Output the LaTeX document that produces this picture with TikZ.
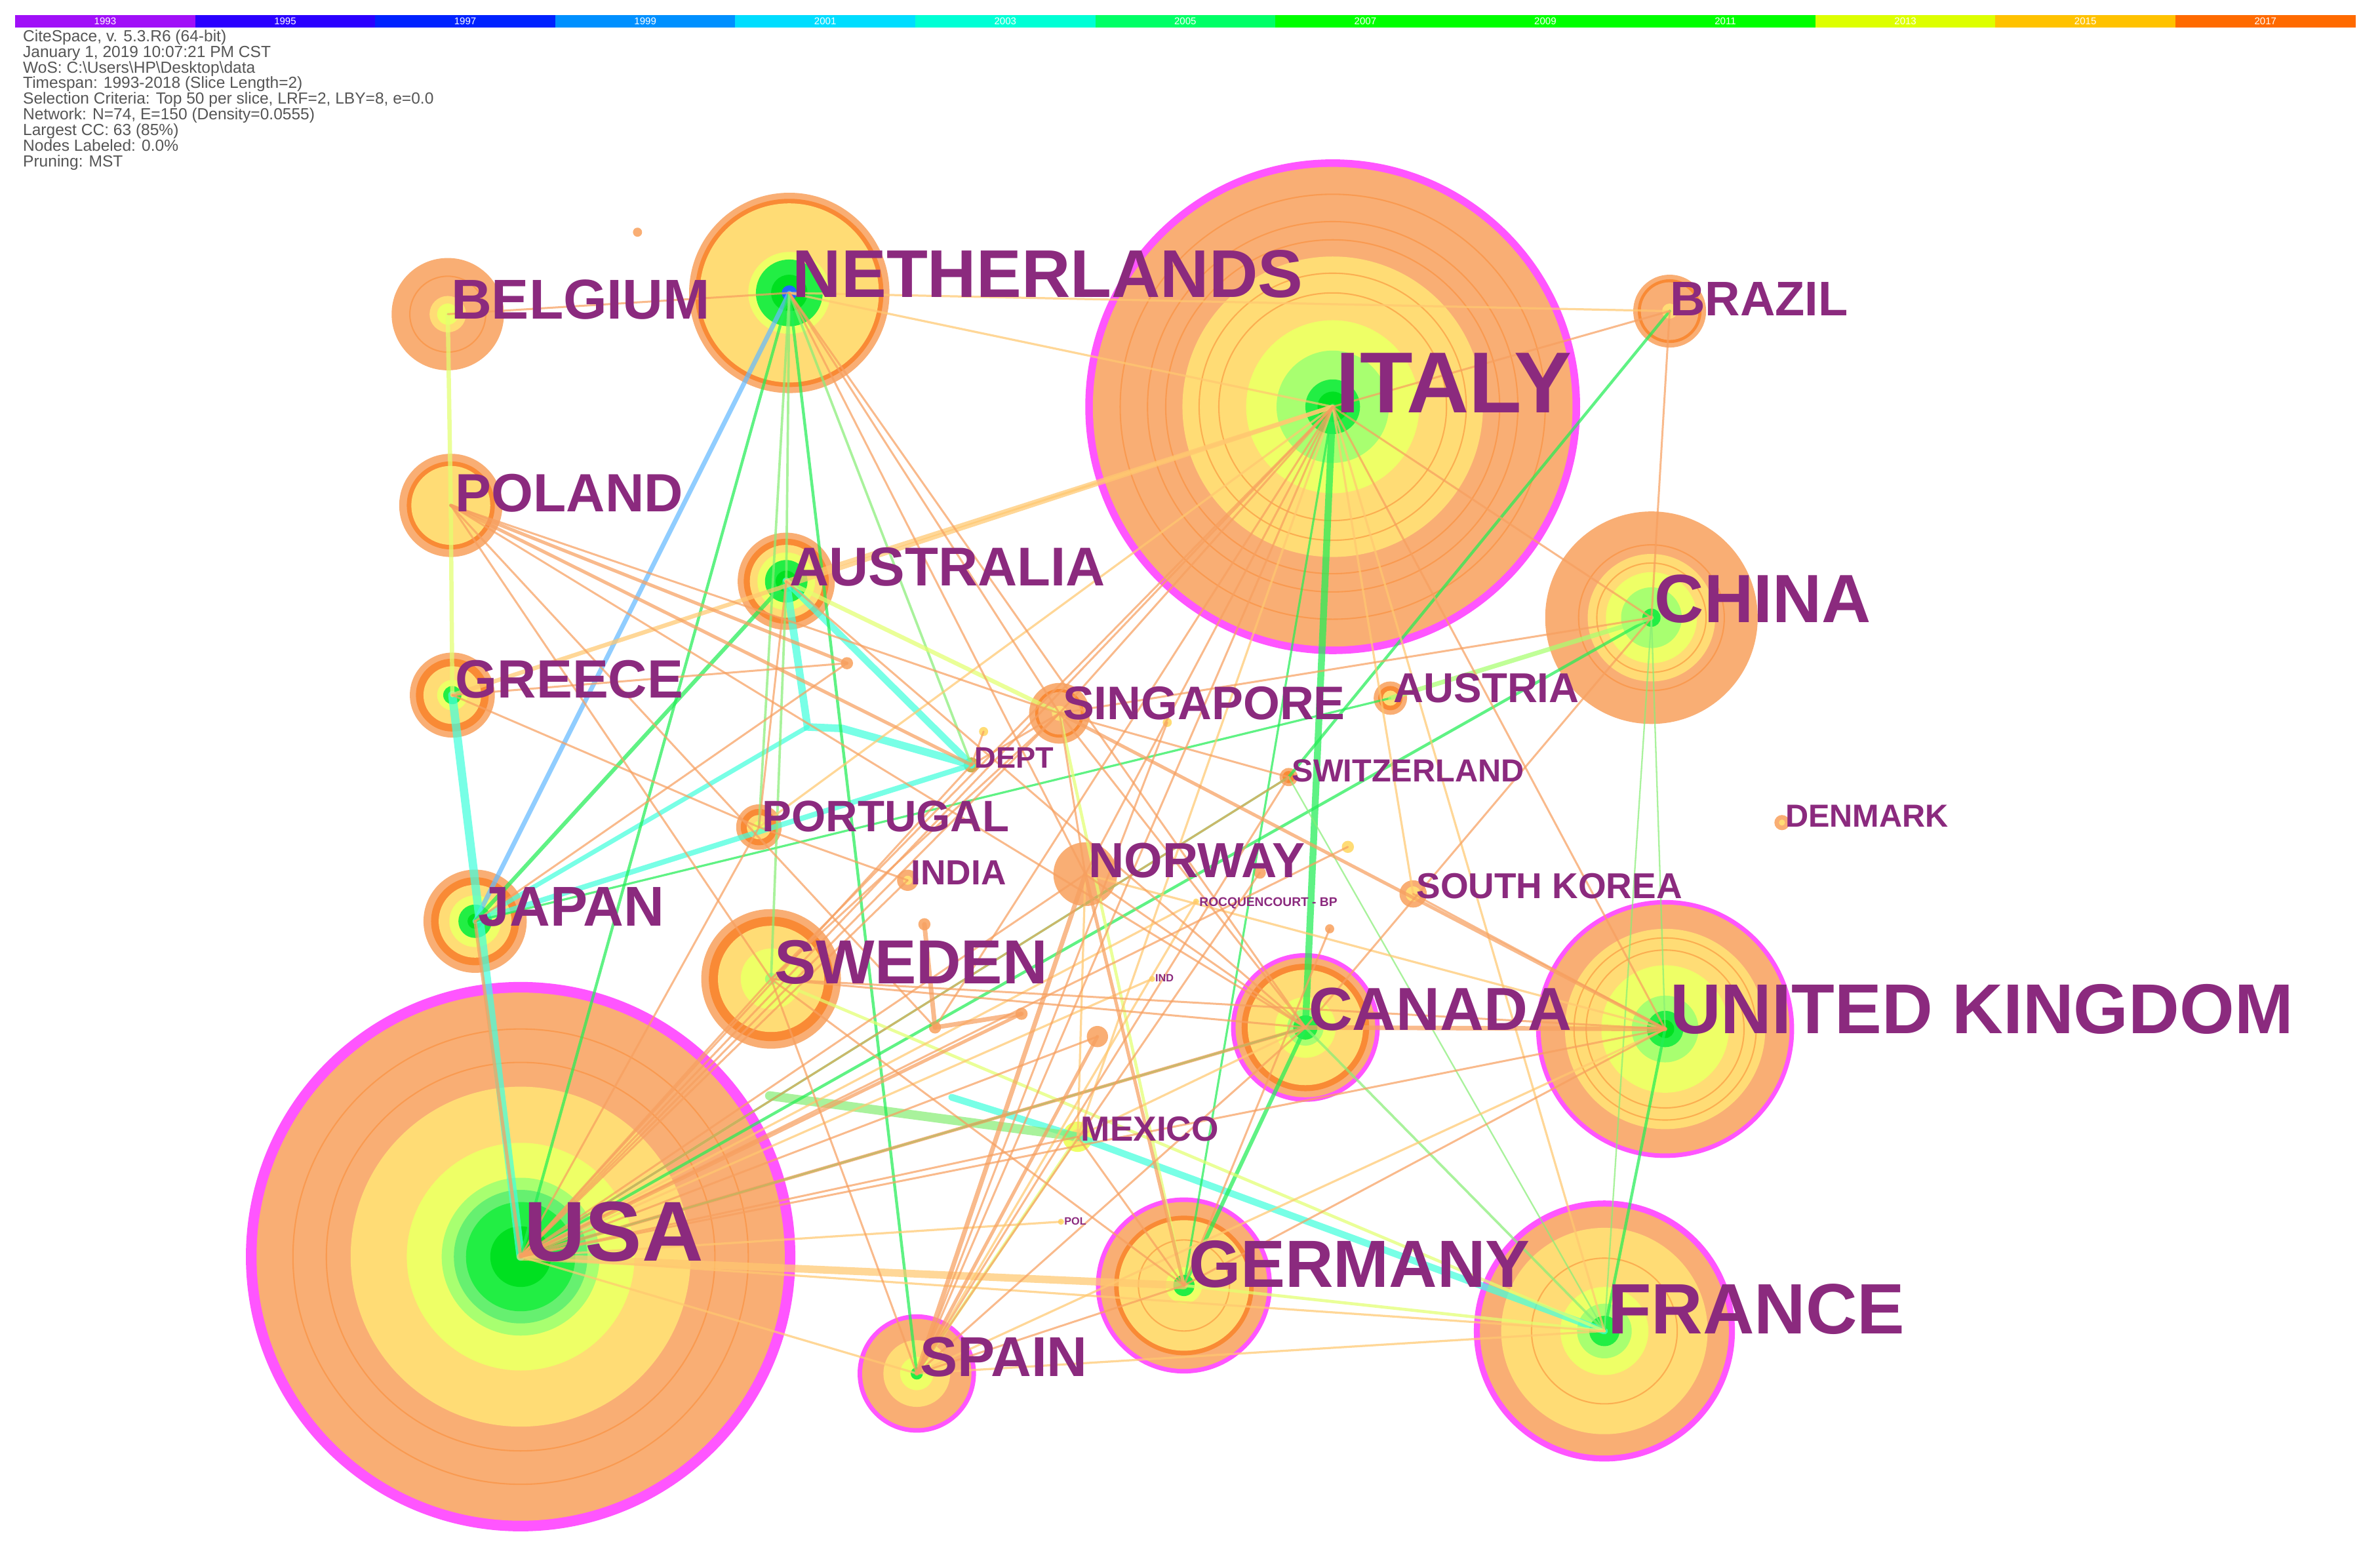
\documentclass[tikz,border=0pt]{standalone}
\usepackage{fontspec}
\setmainfont{Liberation Sans}
\definecolor{mag}{HTML}{FF55FF}
\definecolor{peach}{HTML}{F9AE74}
\definecolor{orl}{HTML}{F98A35}
\definecolor{gold}{HTML}{FFDC75}
\definecolor{lem}{HTML}{EEFF66}
\definecolor{lime}{HTML}{A8FF70}
\definecolor{mgrn}{HTML}{66F070}
\definecolor{grn}{HTML}{22EE44}
\definecolor{dgrn}{HTML}{00E020}
\definecolor{bluec}{HTML}{2266FF}
\definecolor{dept}{HTML}{C8B050}
\definecolor{lab}{HTML}{8B2A7E}
\definecolor{hdrc}{HTML}{555555}
\definecolor{eorc}{HTML}{F7A060}
\definecolor{elorc}{HTML}{FFC870}
\definecolor{elemc}{HTML}{E2FF70}
\definecolor{egrc}{HTML}{22EE55}
\definecolor{elgrc}{HTML}{88EE77}
\definecolor{ecyc}{HTML}{44FFDD}
\definecolor{eblc}{HTML}{66BBFF}
\definecolor{cb1}{HTML}{A010F8}
\definecolor{cb2}{HTML}{2A00FF}
\definecolor{cb3}{HTML}{0022FF}
\definecolor{cb4}{HTML}{0090FF}
\definecolor{cb5}{HTML}{00DDFF}
\definecolor{cb6}{HTML}{00FFD5}
\definecolor{cb7}{HTML}{00FF66}
\definecolor{cb8}{HTML}{00FF00}
\definecolor{cb9}{HTML}{00FF00}
\definecolor{cb10}{HTML}{00FF00}
\definecolor{cb11}{HTML}{DDFF00}
\definecolor{cb12}{HTML}{FFC200}
\definecolor{cb13}{HTML}{FF6A00}
\newcommand\cnode[2]{\foreach \rr/\cc in {#2}{\fill[\cc] (#1) circle[radius=\rr pt];}}
\newcommand\crings[2]{\foreach \rr in {#2}{\draw[orl, line width=0.9pt, opacity=0.55] (#1) circle[radius=\rr pt];}}
\tikzset{
  ed/.style={line cap=round, opacity=0.72},
  eor/.style={ed, draw=eorc},
  elor/.style={ed, draw=elorc},
  elem/.style={ed, draw=elemc},
  egr/.style={ed, draw=egrc},
  elgr/.style={ed, draw=elgrc},
  ecy/.style={ed, draw=ecyc},
  ebl/.style={ed, draw=eblc},
  lbl/.style={anchor=base west, inner sep=0pt, text=lab, font=\bfseries},
  bartext/.style={text=white, inner sep=0pt, font=\fontsize{6.5}{6.5}\selectfont},
}
\begin{document}
\begin{tikzpicture}[x=1pt,y=-1pt]
\useasboundingbox[fill=white] (0,0) rectangle (1568,1024.6);

% colour bar
\foreach \i/\c/\yr in {0/cb1/1993,1/cb2/1995,2/cb3/1997,3/cb4/1999,4/cb5/2001,5/cb6/2003,6/cb7/2005,7/cb8/2007,8/cb9/2009,9/cb10/2011,10/cb11/2013,11/cb12/2015,12/cb13/2017}{
  \fill[\c] ({10+\i*118.6},10) rectangle ({10+(\i+1)*118.6},18);
  \node[bartext] (yr\i) at ({10+(\i+0.5)*118.6},14) {\yr};
}

% header
\node[anchor=north west, align=left, inner sep=0pt, text=hdrc, font=\fontsize{10.6}{10.3}\selectfont] (hdr) at (15,19.5) {CiteSpace, v. 5.3.R6 (64-bit)\\
January 1, 2019 10:07:21 PM CST\\
WoS: C:\textbackslash Users\textbackslash HP\textbackslash Desktop\textbackslash data\\
Timespan: 1993-2018 (Slice Length=2)\\
Selection Criteria: Top 50 per slice, LRF=2, LBY=8, e=0.0\\
Network: N=74, E=150 (Density=0.0555)\\
Largest CC: 63 (85\%)\\
Nodes Labeled: 0.0\%\\
Pruning: MST};

% node positions
\coordinate (usa) at (343,828);
\coordinate (italy) at (878,268);
\coordinate (uk) at (1097,678);
\coordinate (france) at (1057,877);
\coordinate (germany) at (780,847);
\coordinate (canada) at (860,677);
\coordinate (spain) at (604,905);
\coordinate (china) at (1088,407);
\coordinate (nl) at (520,193);
\coordinate (sweden) at (508,645);
\coordinate (japan) at (313,607);
\coordinate (greece) at (298,458);
\coordinate (poland) at (297,333);
\coordinate (belgium) at (295,207);
\coordinate (australia) at (518,383);
\coordinate (brazil) at (1100,205);
\coordinate (singapore) at (698,470);
\coordinate (norway) at (715,576);
\coordinate (austria) at (916,460);
\coordinate (portugal) at (500,545);
\coordinate (india) at (598,580);
\coordinate (skorea) at (931,589);
\coordinate (switz) at (849,512);
\coordinate (denmark) at (1174,542);
\coordinate (dept) at (640,504);
\coordinate (mexico) at (710,749);
\coordinate (rocq) at (788,594);
\coordinate (ind) at (759,645);
\coordinate (pol) at (699,805);
\coordinate (h1) at (532,479);
\coordinate (h1b) at (555,480);
\coordinate (h2) at (627,723);
\coordinate (h3) at (507,722);
\coordinate (s1) at (558,437);
\coordinate (s3) at (616,677);
\coordinate (s4) at (673,668);
\coordinate (s5) at (609,609);
\coordinate (s6) at (723,683);
\coordinate (s7) at (648,482);
\coordinate (s8) at (420,153);
\coordinate (s10) at (888,558);
\coordinate (s11) at (830,575);
\coordinate (s12) at (876,612);
\coordinate (s14) at (769,476);

% node discs
\cnode{usa}{181/mag,174/peach,112/gold,75/lem,52/lime,44/mgrn,36/grn,20/dgrn}
\crings{usa}{150,128}
\cnode{italy}{163/mag,158/peach,99/gold,57/lem,37/lime,18/grn,10/dgrn}
\crings{italy}{140,122,110,88,75}
\cnode{uk}{85/mag,82/peach,66/gold,42/lem,22/lime,12/grn,6/dgrn}
\crings{uk}{60,52}
\cnode{france}{86/mag,82/peach,68/gold,29/lem,18/lime,10/grn}
\crings{france}{48}
\cnode{germany}{58/mag,55/peach,46/orl,43/gold,12/lem,7/grn}
\crings{germany}{30}
\cnode{canada}{49/mag,46/peach,42/orl,38/gold,20/lem,12/lime,8/grn}
\cnode{spain}{39/mag,36/peach,22/gold,11/lem,4/grn}
\cnode{china}{70/peach,42/gold,30/lem,20/lime,6/grn}
\crings{china}{48,36}
\cnode{nl}{66/peach,62/orl,59/gold,27/lem,22/grn,12/dgrn,5/bluec}
\cnode{sweden}{46/peach,41/orl,35/gold,20/lem,4/lime}
\cnode{japan}{34/peach,29/orl,24/gold,17/lem,11/grn,5/dgrn}
\cnode{greece}{28/peach,24/orl,19/gold,10/lem,6/grn}
\cnode{poland}{34/peach,29/orl,26/gold}
\cnode{belgium}{37/peach,12/gold,7/lem}
\crings{belgium}{25}
\cnode{australia}{32/peach,28/orl,24/gold,19/lem,14/grn,7/dgrn}
\cnode{brazil}{24/peach,21/orl,19/peach,5/gold}
\cnode{singapore}{20/peach,16/orl,14/peach,5/gold}
\cnode{norway}{21/peach}
\cnode{austria}{11/peach,8/orl,5/gold}
\cnode{portugal}{15/peach,12/orl,8/gold,4/lem}
\cnode{india}{7/peach,3/gold}
\cnode{skorea}{9/peach,5/gold}
\cnode{switz}{6/peach,4/orl}
\cnode{denmark}{5/peach,2/gold}
\cnode{dept}{5/dept}
\cnode{mexico}{10/lem,5/gold}
\cnode{rocq}{2/gold}
\cnode{ind}{2/gold}
\cnode{pol}{2/gold}
\cnode{s1}{4/peach}
\cnode{s3}{4/peach}
\cnode{s4}{4/peach}
\cnode{s5}{4/peach}
\cnode{s6}{7/peach}
\cnode{s7}{3/gold}
\cnode{s8}{3/peach}
\cnode{s10}{4/gold}
\cnode{s11}{4/peach}
\cnode{s12}{3/peach}
\cnode{s14}{3/gold}

% edges
\draw[ebl, line width=3pt] (nl) -- (japan);
\draw[ecy, line width=5.5pt] (greece) -- (usa);
\draw[ecy, line width=5pt] (australia) -- (h1) -- (h1b) -- (dept);
\draw[ecy, line width=4.5pt] (australia) -- (dept);
\draw[ecy, line width=3.5pt] (japan) -- (dept);
\draw[ecy, line width=3pt] (japan) -- (h1);
\draw[ecy, line width=4.5pt] (h2) -- (mexico) -- (france);
\draw[elgr, line width=6pt] (h3) -- (mexico);
\draw[egr, line width=4.5pt] (italy) -- (canada);
\foreach \a/\b in {australia/japan,germany/canada}
  \draw[egr, line width=2.6pt] (\a) -- (\b);
\foreach \a/\b in {usa/china,nl/usa,nl/spain,uk/france,brazil/switz}
  \draw[egr, line width=1.9pt] (\a) -- (\b);
\foreach \a/\b in {usa/canada,usa/switz,italy/germany,austria/japan}
  \draw[egr, line width=1.4pt] (\a) -- (\b);
\foreach \a/\b in {nl/australia,nl/portugal,nl/dept,australia/sweden,france/canada}
  \draw[elgr, line width=1.6pt] (\a) -- (\b);
\foreach \a/\b in {china/uk,china/france,france/switz}
  \draw[elgr, line width=1pt] (\a) -- (\b);
\foreach \a/\b in {belgium/poland,poland/greece,australia/singapore}
  \draw[elem, line width=2.8pt] (\a) -- (\b);
\draw[ed, draw=lime, line width=3pt] (china) -- (austria);
\foreach \a/\b in {sweden/france,france/germany,spain/mexico,germany/singapore}
  \draw[elem, line width=2pt] (\a) -- (\b);
\draw[elor, line width=5pt] (germany) -- (usa);
\foreach \a/\b in {greece/italy,australia/italy}
  \draw[elor, line width=2.8pt] (\a) -- (\b);
\foreach \a/\b in {nl/italy,nl/brazil,italy/france,italy/mexico,spain/rocq,italy/skorea,uk/spain,uk/norway,canada/mexico,usa/france,spain/usa,france/spain,mexico/norway,italy/portugal,usa/rocq,usa/ind,usa/pol}
  \draw[elor, line width=1.4pt] (\a) -- (\b);
\foreach \a/\b in {uk/canada,spain/norway,s5/s3,s3/s4}
  \draw[eor, line width=3pt] (\a) -- (\b);
\foreach \a/\b in {singapore/uk,japan/usa,poland/dept,poland/s1,germany/norway,canada/usa,spain/s6,usa/s4}
  \draw[eor, line width=2.2pt] (\a) -- (\b);
\foreach \a/\b in {nl/singapore,nl/canada,nl/norway,nl/belgium,poland/sweden,poland/singapore,poland/canada,poland/s3,greece/portugal,australia/portugal,australia/canada,italy/spain,italy/sweden,italy/norway,italy/usa,italy/china,italy/uk,italy/singapore,italy/brazil,italy/s3,china/brazil,china/singapore,china/canada,uk/germany,uk/usa,uk/sweden,skorea/uk,germany/spain,germany/mexico,germany/sweden,canada/sweden,canada/norway,canada/spain,spain/sweden,sweden/singapore,sweden/usa,usa/singapore,usa/norway,usa/dept,usa/portugal,usa/s6,usa/mexico,usa/india,singapore/dept,singapore/canada,singapore/norway,switz/singapore,switz/usa,switz/spain,india/portugal,japan/s1,dept/s7,s11/spain,s12/germany,greece/s1,s10/usa,s14/spain}
  \draw[eor, line width=1.3pt] (\a) -- (\b);

% labels
\node[lbl, font=\fontsize{56}{56}\selectfont\bfseries] (lusa) at (345,831) {USA};
\node[lbl, font=\fontsize{57}{57}\selectfont\bfseries] (litaly) at (880,272) {ITALY};
\node[lbl, font=\fontsize{46.5}{46.5}\selectfont\bfseries] (luk) at (1100,681) {UNITED KINGDOM};
\node[lbl, font=\fontsize{47}{47}\selectfont\bfseries] (lfrance) at (1059,879) {FRANCE};
\node[lbl, font=\fontsize{44}{44}\selectfont\bfseries] (lgermany) at (783,848) {GERMANY};
\node[lbl, font=\fontsize{40}{40}\selectfont\bfseries] (lcanada) at (862,679) {CANADA};
\node[lbl, font=\fontsize{37}{37}\selectfont\bfseries] (lspain) at (606,907) {SPAIN};
\node[lbl, font=\fontsize{41}{41}\selectfont\bfseries] (lsweden) at (510,648) {SWEDEN};
\node[lbl, font=\fontsize{37}{37}\selectfont\bfseries] (ljapan) at (315,610) {JAPAN};
\node[lbl, font=\fontsize{35.5}{35.5}\selectfont\bfseries] (lgreece) at (300,460) {GREECE};
\node[lbl, font=\fontsize{35.5}{35.5}\selectfont\bfseries] (lpoland) at (300,337) {POLAND};
\node[lbl, font=\fontsize{37}{37}\selectfont\bfseries] (lbelgium) at (297,210) {BELGIUM};
\node[lbl, font=\fontsize{44.5}{44.5}\selectfont\bfseries] (lnl) at (522,196) {NETHERLANDS};
\node[lbl, font=\fontsize{36}{36}\selectfont\bfseries] (laustralia) at (520,386) {AUSTRALIA};
\node[lbl, font=\fontsize{45}{45}\selectfont\bfseries] (lchina) at (1090,410) {CHINA};
\node[lbl, font=\fontsize{32}{32}\selectfont\bfseries] (lbrazil) at (1100,208) {BRAZIL};
\node[lbl, font=\fontsize{31}{31}\selectfont\bfseries] (lsingapore) at (700,474) {SINGAPORE};
\node[lbl, font=\fontsize{27.5}{27.5}\selectfont\bfseries] (laustria) at (918,463) {AUSTRIA};
\node[lbl, font=\fontsize{19.5}{19.5}\selectfont\bfseries] (ldept) at (642,506) {DEPT};
\node[lbl, font=\fontsize{21}{21}\selectfont\bfseries] (lswitz) at (851,515) {SWITZERLAND};
\node[lbl, font=\fontsize{21}{21}\selectfont\bfseries] (ldenmark) at (1176,545) {DENMARK};
\node[lbl, font=\fontsize{29}{29}\selectfont\bfseries] (lportugal) at (502,548) {PORTUGAL};
\node[lbl, font=\fontsize{23}{23}\selectfont\bfseries] (lindia) at (600,583) {INDIA};
\node[lbl, font=\fontsize{32.5}{32.5}\selectfont\bfseries] (lnorway) at (717,578) {NORWAY};
\node[lbl, font=\fontsize{23.7}{23.7}\selectfont\bfseries] (lskorea) at (933,592) {SOUTH KOREA};
\node[lbl, font=\fontsize{23}{23}\selectfont\bfseries] (lmexico) at (712,752) {MEXICO};
\node[lbl, font=\fontsize{8.3}{8.3}\selectfont\bfseries] (lrocq) at (790,597) {ROCQUENCOURT - BP};
\node[lbl, font=\fontsize{7}{7}\selectfont\bfseries] (lind) at (761,647) {IND};
\node[lbl, font=\fontsize{7}{7}\selectfont\bfseries] (lpol) at (701,807) {POL};
\end{tikzpicture}
\end{document}
